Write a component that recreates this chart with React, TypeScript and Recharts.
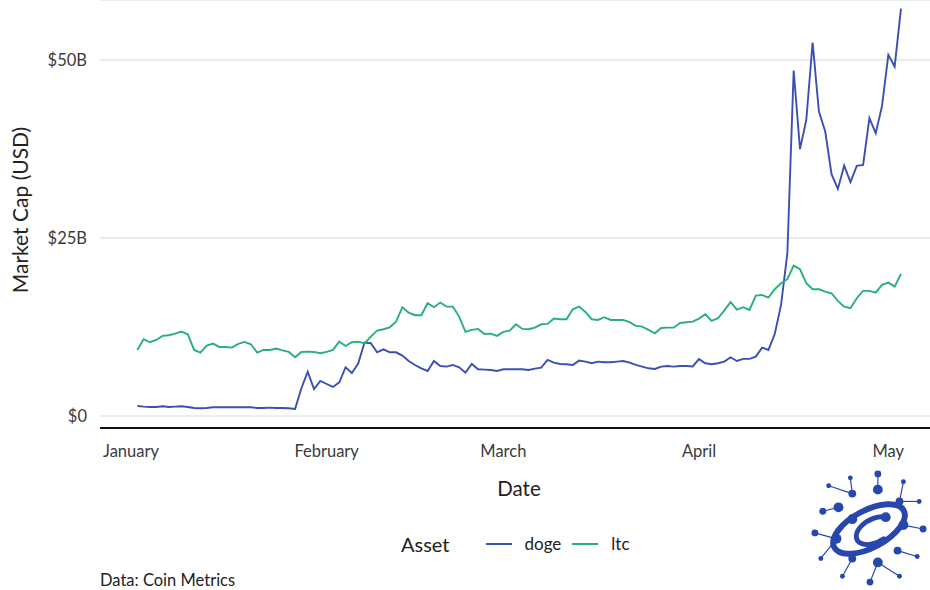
import { LineChart, Line, XAxis, YAxis, CartesianGrid } from 'recharts'

// first day of data, everything else is consecutive days
const startDate = '2021-01-02'

// market cap, billions USD, one value per day
const doge = [
  1.40, 1.31, 1.26, 1.26, 1.36, 1.26, 1.31, 1.36, 1.26, 1.12,
  1.08, 1.12, 1.22, 1.22, 1.22, 1.22, 1.22, 1.22, 1.22, 1.12,
  1.12, 1.17, 1.12, 1.12, 1.08, 0.98, 3.89, 6.22, 3.79, 4.92,
  4.49, 4.07, 4.73, 6.84, 6.04, 7.35, 10.3, 10.21, 8.94, 9.36,
  8.94, 8.94, 8.47, 7.72, 7.16, 6.69, 6.32, 7.72, 7.02, 6.93,
  7.16, 6.84, 6.08, 7.3, 6.55, 6.51, 6.46, 6.32, 6.55, 6.55,
  6.55, 6.55, 6.46, 6.65, 6.79, 7.87, 7.49, 7.3, 7.26, 7.16,
  7.77, 7.63, 7.4, 7.63, 7.54, 7.54, 7.63, 7.72, 7.49, 7.16,
  6.93, 6.69, 6.6, 6.93, 7.02, 6.93, 7.02, 7.02, 6.95, 7.98,
  7.4, 7.26, 7.4, 7.63, 8.24, 7.72, 8.01, 8.01, 8.33, 9.6,
  9.27, 11.5, 15.6, 22.85, 48.5, 37.46, 41.57, 52.43, 42.74, 39.93,
  33.94, 31.88, 35.15, 32.82, 35.11, 35.25, 41.81, 39.7, 43.54, 50.7,
  49.06, 57.2,
]

const ltc = [
  9.27, 10.77, 10.35, 10.67, 11.24, 11.33, 11.56, 11.84, 11.47, 9.27,
  8.9, 9.88, 10.16, 9.69, 9.69, 9.6, 10.11, 10.39, 10.07, 8.9,
  9.27, 9.27, 9.46, 9.22, 8.99, 8.24, 8.99, 9.03, 8.99, 8.8,
  9.0, 9.27, 10.44, 9.83, 10.35, 10.44, 10.2, 11.14, 11.98, 12.17,
  12.45, 13.25, 15.27, 14.51, 14.14, 14.14, 15.83, 15.27, 15.92, 15.35,
  15.35, 13.95, 11.8, 12.08, 12.22, 11.52, 11.56, 11.24, 11.8, 11.98,
  12.87, 12.22, 12.17, 12.4, 12.87, 12.92, 13.67, 13.58, 13.58, 14.98,
  15.35, 14.61, 13.58, 13.48, 13.86, 13.48, 13.48, 13.48, 13.16, 12.64,
  12.54, 12.08, 11.61, 12.36, 12.4, 12.4, 13.06, 13.16, 13.25, 13.67,
  14.28, 13.34, 13.72, 14.79, 16.01, 14.93, 15.27, 14.89, 16.9, 16.99,
  16.62, 17.79, 18.63, 19.2, 21.11, 20.6, 18.63, 17.79, 17.79, 17.46,
  17.23, 16.15, 15.35, 15.12, 16.53, 17.56, 17.56, 17.32, 18.4, 18.72,
  18.16, 19.94,
]

const monthTicks = ['2021-01-01', '2021-02-01', '2021-03-01', '2021-04-01', '2021-05-01']
const monthLabels = ['January', 'February', 'March', 'April', 'May']
const yTicks = [0, 25, 50]

const series = [
  { key: 'doge', color: '#3a50b3' },
  { key: 'ltc', color: '#29ae7c' },
]

const DAY = 86400000
const origin = Date.parse('2021-01-01')
const toDay = (iso: string) => Math.round((Date.parse(iso) - origin) / DAY)

const firstDay = toDay(startDate)
const data = doge.map((v, i) => ({ day: firstDay + i, doge: v, ltc: ltc[i] }))
const xTicks = monthTicks.map(toDay)

const font = 'Lato, "Open Sans", sans-serif'
const ink = '#222'

function Logo() {
  const blue = '#2747ad'
  const outer = [
    [14, 44], [20, 18], [42, 10], [70, 6], [96, 14], [112, 34], [116, 62],
    [110, 90], [92, 110], [62, 116], [34, 110], [12, 92], [6, 66],
  ]
  const inner = [
    [30, 40], [44, 26], [70, 22], [92, 34], [96, 58], [90, 84], [70, 96], [44, 92], [28, 72],
  ]
  return (
    <svg width={122} height={120} viewBox="0 0 122 122">
      {outer.map(([x, y], i) => {
        const [ix, iy] = inner[Math.round((i * inner.length) / outer.length) % inner.length]
        return <line key={'l' + i} x1={x} y1={y} x2={ix} y2={iy} stroke={blue} strokeWidth={1.2} />
      })}
      {outer.map(([x, y], i) => (
        <circle key={'o' + i} cx={x} cy={y} r={i % 3 === 0 ? 3.5 : 2.5} fill={blue} />
      ))}
      {inner.map(([x, y], i) => (
        <circle key={'i' + i} cx={x} cy={y} r={i % 2 === 0 ? 5 : 4} fill={blue} />
      ))}
      <ellipse cx={61} cy={62} rx={40} ry={19} transform="rotate(-28 61 62)"
        fill="none" stroke={blue} strokeWidth={6} />
      <path d="M78 50 A20 12 -28 1 0 76 72" fill="none" stroke={blue} strokeWidth={5} strokeLinecap="round" />
      <circle cx={78} cy={50} r={5} fill={blue} />
      <circle cx={44} cy={52} r={5} fill={blue} />
    </svg>
  )
}

export default function App() {
  return (
    <div style={{ position: 'absolute', left: 0, top: 0, width: 930, height: 590, fontFamily: font, background: '#fff', overflow: 'hidden' }}>
      <LineChart width={930} height={590} data={data} margin={{ top: 0, right: 0, bottom: 0, left: 0 }}>
        <CartesianGrid vertical={false} stroke="#e8e8e8" strokeWidth={1.6} />
        <XAxis
          dataKey="day"
          type="number"
          domain={[-4.91, 126.6]}
          ticks={xTicks}
          tickFormatter={(v) => monthLabels[xTicks.indexOf(v)] ?? ''}
          height={162}
          tickLine={false}
          tickSize={0}
          tickMargin={17}
          axisLine={{ stroke: '#111', strokeWidth: 2 }}
          tick={{ fontSize: 16.5, fill: '#3a3a3a', fontFamily: font }}
          allowDataOverflow
        />
        <YAxis
          type="number"
          domain={[-1.69, 58.4]}
          ticks={yTicks}
          tickFormatter={(v) => `$${v}${v === 0 ? '' : 'B'}`}
          width={100}
          axisLine={false}
          tickLine={false}
          tickSize={0}
          tickMargin={13}
          tick={{ fontSize: 16.5, fill: '#3a3a3a', fontFamily: font }}
          allowDataOverflow
        />
        {series.map((s) => (
          <Line
            key={s.key}
            dataKey={s.key}
            type="linear"
            stroke={s.color}
            strokeWidth={1.9}
            dot={false}
            isAnimationActive={false}
          />
        ))}
      </LineChart>

      <div style={{
        position: 'absolute', left: 20, top: 210, transform: 'translate(-50%, -50%) rotate(-90deg)',
        fontSize: 21, color: ink, whiteSpace: 'nowrap', lineHeight: 1.1,
      }}>
        Market Cap (USD)
      </div>
      <div style={{
        position: 'absolute', left: 519, top: 488, transform: 'translate(-50%, -50%)',
        fontSize: 20.5, color: ink, lineHeight: 1.1,
      }}>
        Date
      </div>

      <div style={{
        position: 'absolute', left: 401, top: 544, transform: 'translateY(-50%)',
        display: 'flex', alignItems: 'center', color: ink, lineHeight: 1.1,
      }}>
        <span style={{ fontSize: 20, marginRight: 36 }}>Asset</span>
        {series.map((s) => (
          <span key={s.key} style={{ display: 'flex', alignItems: 'center', marginRight: 11 }}>
            <span style={{ width: 26, height: 2, background: s.color, display: 'inline-block', marginRight: 13 }} />
            <span style={{ fontSize: 17 }}>{s.key}</span>
          </span>
        ))}
      </div>

      <div style={{
        position: 'absolute', left: 100, top: 580, transform: 'translateY(-50%)',
        fontSize: 16.5, color: ink, lineHeight: 1, whiteSpace: 'nowrap',
      }}>
        Data: Coin Metrics
      </div>

      <div style={{ position: 'absolute', left: 808, top: 468, lineHeight: 0 }}>
        <Logo />
      </div>
    </div>
  )
}
